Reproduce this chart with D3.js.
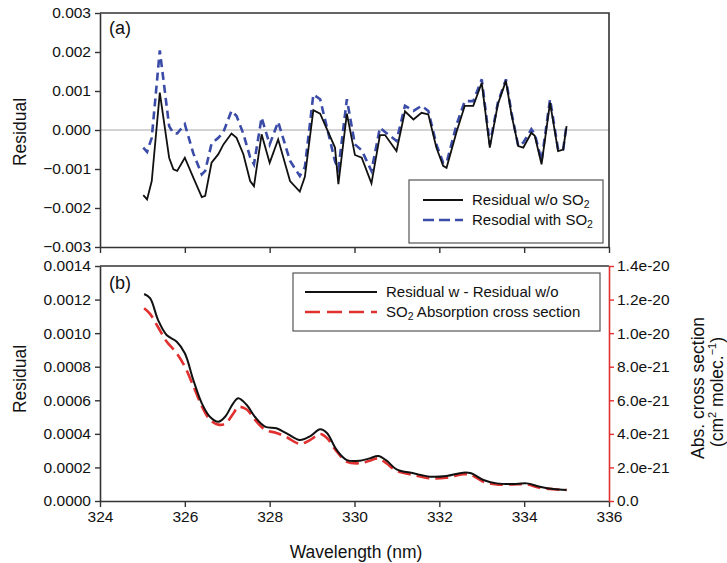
<!DOCTYPE html>
<html>
<head>
<meta charset="utf-8">
<script src="https://cdn.jsdelivr.net/npm/d3@7"></script>
<style>
  body { margin: 0; background: #fff; }
  svg text { font-family: "Liberation Sans", Arial, sans-serif; }
</style>
</head>
<body>
<div id="chart"></div>
<script>
// panel (a): residuals, x1e-3
const wlA = [325.02, 325.11, 325.22, 325.41, 325.63, 325.73, 325.82, 326.0, 326.2, 326.4,
  326.48, 326.63, 326.79, 326.91, 327.1, 327.22, 327.38, 327.54, 327.63, 327.81,
  328.0, 328.2, 328.48, 328.71, 328.83, 329.03, 329.19, 329.54, 329.62, 329.82,
  330.01, 330.17, 330.4, 330.6, 330.72, 330.99, 331.19, 331.39, 331.58, 331.74,
  331.93, 332.09, 332.17, 332.41, 332.6, 332.8, 333.0, 333.19, 333.38, 333.57,
  333.7, 333.86, 333.98, 334.17, 334.25, 334.41, 334.61, 334.8, 334.92, 335.0];
const residWithout = [-1.67, -1.78, -1.31, 0.96, -0.71, -1.01, -1.05, -0.71, -1.22, -1.72,
  -1.69, -0.84, -0.62, -0.37, -0.09, -0.2, -0.62, -1.31, -1.44, -0.11,
  -0.84, -0.24, -1.31, -1.58, -1.2, 0.51, 0.42, -0.45, -1.39, 0.42,
  -0.64, -0.71, -1.37, -0.13, -0.13, -0.54, 0.48, 0.27, 0.44, 0.4,
  -0.45, -0.92, -0.97, -0.03, 0.62, 0.62, 1.21, -0.45, 0.66, 1.26,
  0.4, -0.41, -0.45, -0.07, -0.15, -0.88, 0.7, -0.54, -0.5, 0.1];
const residWith = [-0.45, -0.56, -0.2, 2.04, 0.1, -0.08, -0.09, 0.15, -0.6, -1.14,
  -1.05, -0.35, -0.2, -0.05, 0.49, 0.36, -0.1, -0.7, -0.88, 0.32,
  -0.37, 0.21, -0.79, -1.18, -0.95, 0.91, 0.79, -0.8, -1.01, 0.79,
  -0.37, -0.52, -1.05, 0.06, -0.05, -0.28, 0.62, 0.49, 0.62, 0.49,
  -0.37, -0.84, -0.84, 0.15, 0.74, 0.74, 1.3, -0.37, 0.7, 1.3,
  0.45, -0.41, -0.32, 0.02, -0.1, -0.79, 0.79, -0.5, -0.5, 0.15];

// panel (b): difference (x1e-3) and SO2 cross section (x1e-20)
const wlB = [325.04, 325.18, 325.37, 325.57, 325.81, 326.0, 326.2, 326.4, 326.59, 326.79,
  326.95, 327.14, 327.26, 327.46, 327.65, 327.89, 328.16, 328.4, 328.71, 328.95,
  329.19, 329.35, 329.58, 329.82, 330.13, 330.36, 330.56, 330.75, 330.99, 331.39,
  331.78, 332.17, 332.56, 332.75, 333.04, 333.35, 333.74, 334.06, 334.37, 334.69, 335.0];
const residDiff = [1.233, 1.208, 1.078, 0.989, 0.949, 0.88, 0.721, 0.582, 0.502, 0.472,
  0.502, 0.582, 0.612, 0.572, 0.502, 0.443, 0.433, 0.403, 0.363, 0.385,
  0.427, 0.405, 0.304, 0.244, 0.24, 0.254, 0.268, 0.242, 0.189, 0.165,
  0.145, 0.149, 0.169, 0.165, 0.125, 0.105, 0.101, 0.105, 0.085, 0.071, 0.066];
const so2Cross = [1.148, 1.115, 1.035, 0.95, 0.88, 0.80, 0.685, 0.565, 0.485, 0.455,
  0.46, 0.52, 0.56, 0.545, 0.485, 0.425, 0.405, 0.38, 0.34, 0.363,
  0.399, 0.375, 0.295, 0.234, 0.225, 0.24, 0.254, 0.225, 0.18, 0.155,
  0.135, 0.139, 0.159, 0.155, 0.115, 0.099, 0.099, 0.099, 0.079, 0.07, 0.066];

const xTicks = [324, 326, 328, 330, 332, 334, 336];
const yTicksA = [-0.003, -0.002, -0.001, 0, 0.001, 0.002, 0.003];
const yTicksB = [0, 0.0002, 0.0004, 0.0006, 0.0008, 0.001, 0.0012, 0.0014];
const yTicksR = [0, 2e-21, 4e-21, 6e-21, 8e-21, 1e-20, 1.2e-20, 1.4e-20];
const yLabelsR = ["0.0", "2.0e-21", "4.0e-21", "6.0e-21", "8.0e-21", "1.0e-20", "1.2e-20", "1.4e-20"];

const W = 727, H = 563;
const left = 100, right = 609;
const topA = 13, botA = 247, topB = 266, botB = 501;
const axisCol = "#333";
const blue = "#3b4ca8", red = "#e0302f";
const tickFont = "15.5px", titleFont = "17.5px", legFont = "15px";

const svg = d3.select("#chart").append("svg")
  .attr("width", W).attr("height", H);

const x = d3.scaleLinear().domain([324, 336]).range([left, right]);
const yA = d3.scaleLinear().domain([-0.003, 0.003]).range([botA, topA]);
const yB = d3.scaleLinear().domain([0, 0.0014]).range([botB, topB]);
const yR = d3.scaleLinear().domain([0, 1.4e-20]).range([botB, topB]);

function styleAxis(g, col) {
  g.select(".domain").attr("stroke", col).attr("stroke-width", 1.6);
  g.selectAll(".tick line").attr("stroke", col).attr("stroke-width", 1.4);
  g.selectAll(".tick text").attr("fill", "#111").style("font-size", tickFont);
}

// ---- panel (a)
svg.append("line")
  .attr("x1", left).attr("x2", right).attr("y1", yA(0)).attr("y2", yA(0))
  .attr("stroke", "#c4c4c4").attr("stroke-width", 1.5);

const fmtA = d => d === 0 ? "0.000" : (d < 0 ? "\u2212" + d3.format(".3f")(-d) : d3.format(".3f")(d));
svg.append("g").attr("transform", `translate(${left},0)`)
  .call(d3.axisLeft(yA).tickValues(yTicksA).tickFormat(fmtA).tickSize(5).tickSizeOuter(0).tickPadding(4))
  .call(g => styleAxis(g, axisCol));
svg.append("g").attr("transform", `translate(0,${botA})`)
  .call(d3.axisBottom(x).tickValues(xTicks).tickFormat("").tickSize(6).tickSizeOuter(0))
  .call(g => styleAxis(g, axisCol));
svg.append("path")
  .attr("d", `M${left},${topA}H${right}V${botA}`)
  .attr("fill", "none").attr("stroke", axisCol).attr("stroke-width", 1.6);

const lineA = vals => d3.line()
  .x((d, i) => x(wlA[i]))
  .y(d => yA(d * 1e-3))(vals);

svg.append("path").attr("d", lineA(residWith))
  .attr("fill", "none").attr("stroke", blue).attr("stroke-width", 2.6)
  .attr("stroke-dasharray", "8,5");
svg.append("path").attr("d", lineA(residWithout))
  .attr("fill", "none").attr("stroke", "#111").attr("stroke-width", 1.8);

svg.append("text").attr("x", 109).attr("y", 34)
  .style("font-size", "18px").attr("fill", "#111").text("(a)");

svg.append("text")
  .attr("transform", "translate(26,132) rotate(-90)")
  .attr("text-anchor", "middle").style("font-size", titleFont).attr("fill", "#111")
  .text("Residual");

// legend (a)
const legA = svg.append("g");
legA.append("rect").attr("x", 409).attr("y", 180).attr("width", 194).attr("height", 63)
  .attr("fill", "#fff").attr("stroke", "#555").attr("stroke-width", 1.2);
legA.append("line").attr("x1", 423).attr("x2", 463).attr("y1", 200).attr("y2", 200)
  .attr("stroke", "#111").attr("stroke-width", 1.8);
legA.append("line").attr("x1", 423).attr("x2", 463).attr("y1", 220).attr("y2", 220)
  .attr("stroke", blue).attr("stroke-width", 2.6).attr("stroke-dasharray", "11,5");

function so2Text(g, tx, ty, before, after) {
  const t = g.append("text").attr("x", tx).attr("y", ty)
    .style("font-size", legFont).attr("fill", "#111");
  t.append("tspan").text(before + "SO");
  t.append("tspan").attr("dy", 3).style("font-size", "10.5px").text("2");
  if (after) t.append("tspan").attr("dy", -3).text(after);
  return t;
}
so2Text(legA, 472, 205, "Residual w/o ", "");
so2Text(legA, 472, 225, "Resodial with ", "");

// ---- panel (b)
svg.append("g").attr("transform", `translate(${left},0)`)
  .call(d3.axisLeft(yB).tickValues(yTicksB).tickFormat(d3.format(".4f")).tickSize(5).tickSizeOuter(0).tickPadding(4))
  .call(g => styleAxis(g, axisCol));
svg.append("g").attr("transform", `translate(0,${botB})`)
  .call(d3.axisBottom(x).tickValues(xTicks).tickFormat(d3.format("d")).tickSize(6).tickSizeOuter(0).tickPadding(4))
  .call(g => styleAxis(g, axisCol));
svg.append("line").attr("x1", left).attr("x2", right).attr("y1", topB).attr("y2", topB)
  .attr("stroke", axisCol).attr("stroke-width", 1.6);
svg.append("g").attr("transform", `translate(${right},0)`)
  .call(d3.axisRight(yR).tickValues(yTicksR).tickFormat((d, i) => yLabelsR[i]).tickSize(5).tickSizeOuter(0).tickPadding(3))
  .call(g => styleAxis(g, red));

const curveB = d3.curveCatmullRom.alpha(0.5);
svg.append("path")
  .attr("d", d3.line().curve(curveB).x((d, i) => x(wlB[i])).y(d => yR(d * 1e-20))(so2Cross))
  .attr("fill", "none").attr("stroke", red).attr("stroke-width", 2.6)
  .attr("stroke-dasharray", "13,6");
svg.append("path")
  .attr("d", d3.line().curve(curveB).x((d, i) => x(wlB[i])).y(d => yB(d * 1e-3))(residDiff))
  .attr("fill", "none").attr("stroke", "#111").attr("stroke-width", 2);

svg.append("text").attr("x", 109).attr("y", 289)
  .style("font-size", "18px").attr("fill", "#111").text("(b)");

svg.append("text")
  .attr("transform", "translate(26,379) rotate(-90)")
  .attr("text-anchor", "middle").style("font-size", titleFont).attr("fill", "#111")
  .text("Residual");

svg.append("text").attr("x", 356).attr("y", 558)
  .attr("text-anchor", "middle").style("font-size", titleFont).attr("fill", "#111")
  .text("Wavelength (nm)");

// right axis title
svg.append("text").attr("transform", "translate(704,388) rotate(-90)")
  .attr("text-anchor", "middle").style("font-size", titleFont).attr("fill", "#111")
  .text("Abs. cross section");
const rt2 = svg.append("text").attr("transform", "translate(723,392) rotate(-90)")
  .attr("text-anchor", "middle").style("font-size", titleFont).attr("fill", "#111");
rt2.append("tspan").text("(cm");
rt2.append("tspan").attr("dy", -7).style("font-size", "11px").text("2");
rt2.append("tspan").attr("dy", 7).text(" molec.");
rt2.append("tspan").attr("dy", -7).style("font-size", "11px").text("\u22121");
rt2.append("tspan").attr("dy", 7).text(")");

// legend (b)
const legB = svg.append("g");
legB.append("rect").attr("x", 293).attr("y", 273).attr("width", 307).attr("height", 58)
  .attr("fill", "#fff").attr("stroke", "#555").attr("stroke-width", 1.2);
legB.append("line").attr("x1", 305).attr("x2", 377).attr("y1", 292).attr("y2", 292)
  .attr("stroke", "#111").attr("stroke-width", 2);
legB.append("line").attr("x1", 305).attr("x2", 377).attr("y1", 312).attr("y2", 312)
  .attr("stroke", red).attr("stroke-width", 2.6).attr("stroke-dasharray", "15,7");
legB.append("text").attr("x", 386).attr("y", 297)
  .style("font-size", legFont).attr("fill", "#111").text("Residual w - Residual w/o");
so2Text(legB, 386, 317, "", " Absorption cross section");
</script>
</body>
</html>
